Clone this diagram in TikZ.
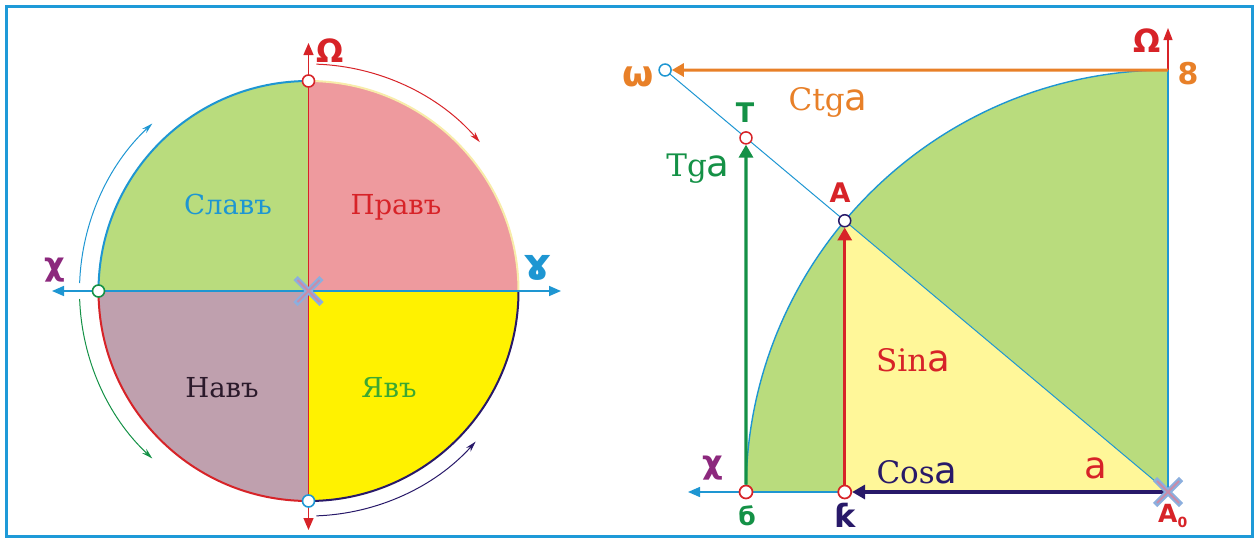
\documentclass[tikz,border=0pt]{standalone}
\usepackage{fontspec}
\setmainfont{DejaVu Serif}
\newfontfamily\symfont{DejaVu Sans}
\newfontfamily\alfont{DejaVu Sans}
\usetikzlibrary{arrows.meta,calc}
\definecolor{bblue}{RGB}{30,154,216}
\definecolor{lblue}{RGB}{30,150,210}
\definecolor{lgreen}{RGB}{185,220,125}
\definecolor{qpink}{RGB}{238,154,158}
\definecolor{qmauve}{RGB}{191,160,174}
\definecolor{qyellow}{RGB}{255,242,0}
\definecolor{lyellow}{RGB}{255,247,153}
\definecolor{cream}{RGB}{248,236,170}
\definecolor{dred}{RGB}{215,35,40}
\definecolor{navy}{RGB}{40,25,105}
\definecolor{dgreen}{RGB}{20,145,70}
\definecolor{ygreen}{RGB}{60,168,50}
\definecolor{orng}{RGB}{232,128,40}
\definecolor{purp}{RGB}{140,40,125}
\definecolor{xblue}{RGB}{140,175,222}
\definecolor{xpink}{RGB}{200,140,170}
\definecolor{darktext}{RGB}{43,26,43}
\newcommand{\myalpha}{{\alfont\fontsize{37}{37}\selectfont a}}
\newcommand{\symsize}[1]{\symfont\bfseries\fontsize{#1}{#1}\selectfont}
\begin{document}
\begin{tikzpicture}[x=1pt,y=1pt,
  ptc/.style={circle, draw, fill=white, inner sep=0pt, minimum size=12pt, line width=1.6pt},
  sym/.style={font=\symsize{32}, inner sep=0pt},
  quad/.style={font=\fontsize{27.5}{27.5}\selectfont, anchor=base, inner sep=0pt},
  trig/.style={font=\fontsize{31}{31}\selectfont, anchor=base, inner sep=0pt},
  axtip/.style={-{Triangle[length=12pt,width=10pt]}},
  bothtip/.style={{Triangle[length=12pt,width=10pt]}-{Triangle[length=12pt,width=10pt]}},
  thin arc/.style={line width=1pt, -{Stealth[length=11pt,width=6pt]}},
  thick arrow/.style={line width=3.2pt, -{Triangle[length=13pt,width=14pt]}},
  xmk/.pic={\draw[xblue,line width=6pt] (-13,-13)--(13,13) (-13,13)--(13,-13);
            \draw[xpink,line width=2pt] (-11,-11)--(11,11) (-11,11)--(11,-11);}
]
\useasboundingbox (0,0) rectangle (1259,-541);
\draw[bblue, line width=3pt] (6.5,-6.5) rectangle (1252.5,-536);

% ---------------- left diagram ----------------
\coordinate (C1) at (308.5,-291);
\fill[lgreen] (C1) -- ($(C1)+(180:210)$) arc[start angle=180,end angle=90,radius=210] -- cycle;
\fill[qpink] (C1) -- ($(C1)+(90:210)$) arc[start angle=90,end angle=0,radius=210] -- cycle;
\fill[qmauve] (C1) -- ($(C1)+(180:210)$) arc[start angle=180,end angle=270,radius=210] -- cycle;
\fill[qyellow] (C1) -- ($(C1)+(270:210)$) arc[start angle=270,end angle=360,radius=210] -- cycle;
\draw[lblue, line width=2pt] ($(C1)+(180:210)$) arc[start angle=180,end angle=90,radius=210];
\draw[cream, line width=2pt] ($(C1)+(90:210)$) arc[start angle=90,end angle=0,radius=210];
\draw[dred, line width=2pt] ($(C1)+(180:210)$) arc[start angle=180,end angle=270,radius=210];
\draw[navy, line width=2pt] ($(C1)+(270:210)$) arc[start angle=270,end angle=360,radius=210];

\coordinate (Vt) at (308.5,-43);
\coordinate (Vb) at (308.5,-530);
\coordinate (Hl) at (52,-291);
\coordinate (Hr) at (561,-291);
\draw[lblue, line width=1.6pt, bothtip] (Hl) -- (Hr);
\draw[dred, line width=1.3pt, bothtip] (Vt) -- (Vb);

\draw[dred, thin arc] ($(C1)+(88:227)$) arc[start angle=88,end angle=41,radius=227];
\draw[lblue, thin arc] ($(C1)+(178:229)$) arc[start angle=178,end angle=133,radius=229];
\draw[dgreen, thin arc] ($(C1)+(182:229)$) arc[start angle=182,end angle=227,radius=229];
\draw[navy, thin arc] ($(C1)+(-88:225)$) arc[start angle=-88,end angle=-42,radius=225];

\node[ptc, draw=dred] (P1) at (308.5,-81) {};
\node[ptc, draw=dgreen] (P2) at (98.5,-291) {};
\node[ptc, draw=lblue] (P3) at (308.5,-501) {};
\pic at (C1) {xmk};

\node[quad, lblue] (tSl) at (228,-214) {Славъ};
\node[quad, dred] (tPr) at (396,-214) {Правъ};
\node[quad, darktext] (tNa) at (222,-397) {Навъ};
\node[quad, ygreen] (tYa) at (389,-397) {Явъ};

\node[sym, dred] (LOm) at (330,-51) {Ω};
\node[sym, lblue, font=\symsize{44}] (Lgam) at (537,-268) {ɤ};
\node[sym, purp] (Lchi) at (55,-270) {χ};

% ---------------- right diagram ----------------
\coordinate (O2) at (1168,-492);
\coordinate (B) at (746,-492);
\coordinate (E) at (1168,-70);
\coordinate (A) at ($(O2)+(140:422)$);
\coordinate (K) at (A |- O2);
\coordinate (T) at ($(O2)+(140:550.9)$);
\coordinate (W) at ($(O2)+(140:656.5)$);
\coordinate (Xl) at (688,-492);
\coordinate (Up) at (1168,-28);

\fill[lgreen] (O2) -- (B) arc[start angle=180,end angle=90,radius=422] -- cycle;
\fill[lyellow] (O2) -- (K) -- (A) -- cycle;
\draw[lblue, line width=1.4pt] (B) arc[start angle=180,end angle=90,radius=422];
\draw[lblue, line width=1.4pt] (O2) -- (E);
\draw[lblue, line width=1pt] (O2) -- (W);
\draw[lblue, line width=2pt] (B) -- (K);
\draw[lblue, line width=1.5pt, axtip] (B) -- (Xl);
\draw[dred, line width=1.2pt, -{Triangle[length=12pt,width=9pt]}] (E) -- (Up);

\node[ptc, draw=lblue, minimum size=12pt, line width=1.5pt] (Wn) at (W) {};
\node[ptc, draw=dred, minimum size=12pt, line width=1.5pt] (Tn) at (T) {};
\node[ptc, draw=navy, minimum size=12pt, line width=1.5pt] (An) at (A) {};
\node[ptc, draw=dred, minimum size=13pt, line width=1.7pt] (Bn) at (B) {};
\node[ptc, draw=dred, minimum size=13pt, line width=1.7pt] (Kn) at (K) {};

\draw[orng, line width=3pt, -{Triangle[length=12pt,width=13pt]}] (E) -- (Wn);
\draw[dgreen, thick arrow] (Bn) -- (Tn);
\draw[dred, thick arrow] (Kn) -- (An);
\draw[navy, thick arrow] (O2) -- (Kn);
\pic at (O2) {xmk};

\node[sym, dred] (ROm) at (1147,-41) {Ω};
\node[sym, orng, font=\symsize{36}] (Rw) at (638,-77) {ω};
\node[sym, orng, font=\symsize{30}] (R8) at (1188,-74) {8};
\node[sym, dgreen, font=\symsize{27}] (RT) at (745,-113) {Т};
\node[sym, dred, font=\symsize{27}] (RA) at (840,-193) {A};
\node[sym, dgreen, font=\symsize{25}] (Rb) at (747,-516) {б};
\node[sym, navy, font=\symsize{32}] (Rk) at (845,-515) {ƙ};
\node[sym, purp] (Rchi) at (713,-468) {χ};
\node[sym, dred, font=\symsize{25}, anchor=west] (RA0) at (1158,-516) {A\raisebox{-5pt}{\symfont\fontsize{14}{14}\selectfont 0}};

\node[trig, orng] (tCtg) at (828,-110) {Ctg\myalpha};
\node[trig, dgreen] (tTg) at (698,-176) {Tg\myalpha};
\node[trig, dred] (tSin) at (913,-371) {Sin\myalpha};
\node[trig, navy] (tCos) at (917,-483) {Cos\myalpha};
\node[dred, anchor=base, inner sep=0pt] (tA) at (1096,-478) {\myalpha};
\end{tikzpicture}
\end{document}
